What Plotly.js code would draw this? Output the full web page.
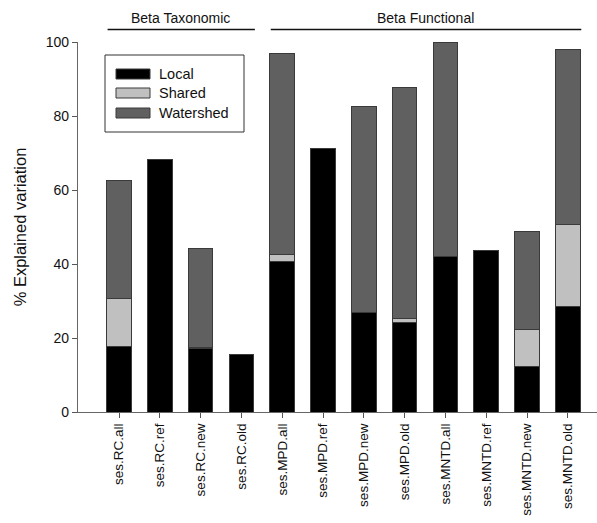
<!DOCTYPE html>
<html>
<head>
<meta charset="utf-8">
<script src="https://cdn.plot.ly/plotly-3.0.1.min.js"></script>
<style>html,body{margin:0;padding:0;background:#fff;}#chart{width:597px;height:523px;}</style>
</head>
<body>
<div id="chart"></div>
<script>
const categories = ["ses.RC.all","ses.RC.ref","ses.RC.new","ses.RC.old","ses.MPD.all","ses.MPD.ref","ses.MPD.new","ses.MPD.old","ses.MNTD.all","ses.MNTD.ref","ses.MNTD.new","ses.MNTD.old"];
const localVals = [17.6, 68.3, 17.2, 15.5, 40.6, 71.3, 26.9, 24.1, 42.0, 43.6, 12.4, 28.5];
const sharedVals = [13.1, null, 0.3, null, 2.1, null, null, 1.3, null, null, 9.9, 22.2];
const watershedVals = [32.0, null, 26.8, null, 54.1, null, 55.8, 62.4, 58.0, null, 26.4, 47.4];
const seriesNames = ["Local", "Shared", "Watershed"];
const groupNames = ["Beta Taxonomic", "Beta Functional"];
const groupSpans = [[0, 3], [4, 11]];
const yTickVals = [0, 20, 40, 60, 80, 100];

const colors = ["#000000", "#c0c0c0", "#606060"];
const W = 597, H = 523;
const M = {l: 78, r: 0, t: 42, b: 111};
const pw = W - M.l - M.r, ph = H - M.t - M.b;
const px2x = p => (p - M.l) / pw;
const py2y = p => (H - M.b - p) / ph;
const font = "Arial, 'Liberation Sans', sans-serif";

const seriesData = [localVals, sharedVals, watershedVals];
const traces = seriesData.map((vals, i) => ({
  type: "bar",
  name: seriesNames[i],
  x: categories.map((c, k) => k),
  y: vals,
  width: 0.6,
  marker: {color: colors[i], line: {color: "#3a3a3a", width: 1}},
  hoverinfo: "skip",
  showlegend: false
}));

const shapes = [];
const annotations = [];
// group header lines and titles
groupSpans.forEach((s, i) => {
  shapes.push({type: "line", xref: "x", yref: "paper", x0: s[0] - 0.28, x1: s[1] + 0.33,
    y0: py2y(29.5), y1: py2y(29.5), line: {color: "#111", width: 1.5}});
  annotations.push({xref: "x", yref: "paper", x: (s[0] + s[1]) / 2, y: py2y(18),
    text: groupNames[i], showarrow: false, xanchor: "center", yanchor: "middle",
    font: {family: font, size: 14, color: "#111"}});
});
// legend box
shapes.push({type: "rect", xref: "paper", yref: "paper", x0: px2x(105), x1: px2x(244),
  y0: py2y(132), y1: py2y(55), line: {color: "#333", width: 1}, fillcolor: "#fff", layer: "above"});
const rowY = [74, 93, 113];
seriesNames.forEach((n, i) => {
  shapes.push({type: "rect", xref: "paper", yref: "paper", x0: px2x(116), x1: px2x(150),
    y0: py2y(rowY[i] + 5), y1: py2y(rowY[i] - 5), fillcolor: colors[i],
    line: {color: "#3a3a3a", width: 1}, layer: "above"});
  annotations.push({xref: "paper", yref: "paper", x: px2x(157), y: py2y(rowY[i]),
    text: n, showarrow: false, xanchor: "left", yanchor: "middle",
    font: {family: font, size: 14.5, color: "#111"}});
});

const layout = {
  width: W, height: H,
  margin: M,
  paper_bgcolor: "#fff", plot_bgcolor: "#fff",
  barmode: "stack",
  showlegend: false,
  font: {family: font, color: "#111"},
  xaxis: {
    range: [-1.005, (pw) / 40.8 - 1.005],
    tickmode: "array", tickvals: categories.map((c, k) => k), ticktext: categories,
    tickangle: -90, ticks: "outside", ticklen: 5, tickcolor: "#555",
    showline: true, linecolor: "#666", linewidth: 1.2,
    showgrid: false, zeroline: false,
    tickfont: {family: font, size: 13.5, color: "#111"}
  },
  yaxis: {
    range: [0, 100],
    tickmode: "array", tickvals: yTickVals,
    ticks: "outside", ticklen: 5, tickcolor: "#555",
    showline: true, linecolor: "#666", linewidth: 1.2,
    showgrid: false, zeroline: false,
    tickfont: {family: font, size: 14, color: "#111"},
    title: {text: "% Explained variation", font: {family: font, size: 16.5, color: "#111"}, standoff: 14}
  },
  shapes: shapes,
  annotations: annotations
};

Plotly.newPlot("chart", traces, layout, {displayModeBar: false, staticPlot: true});
</script>
</body>
</html>
